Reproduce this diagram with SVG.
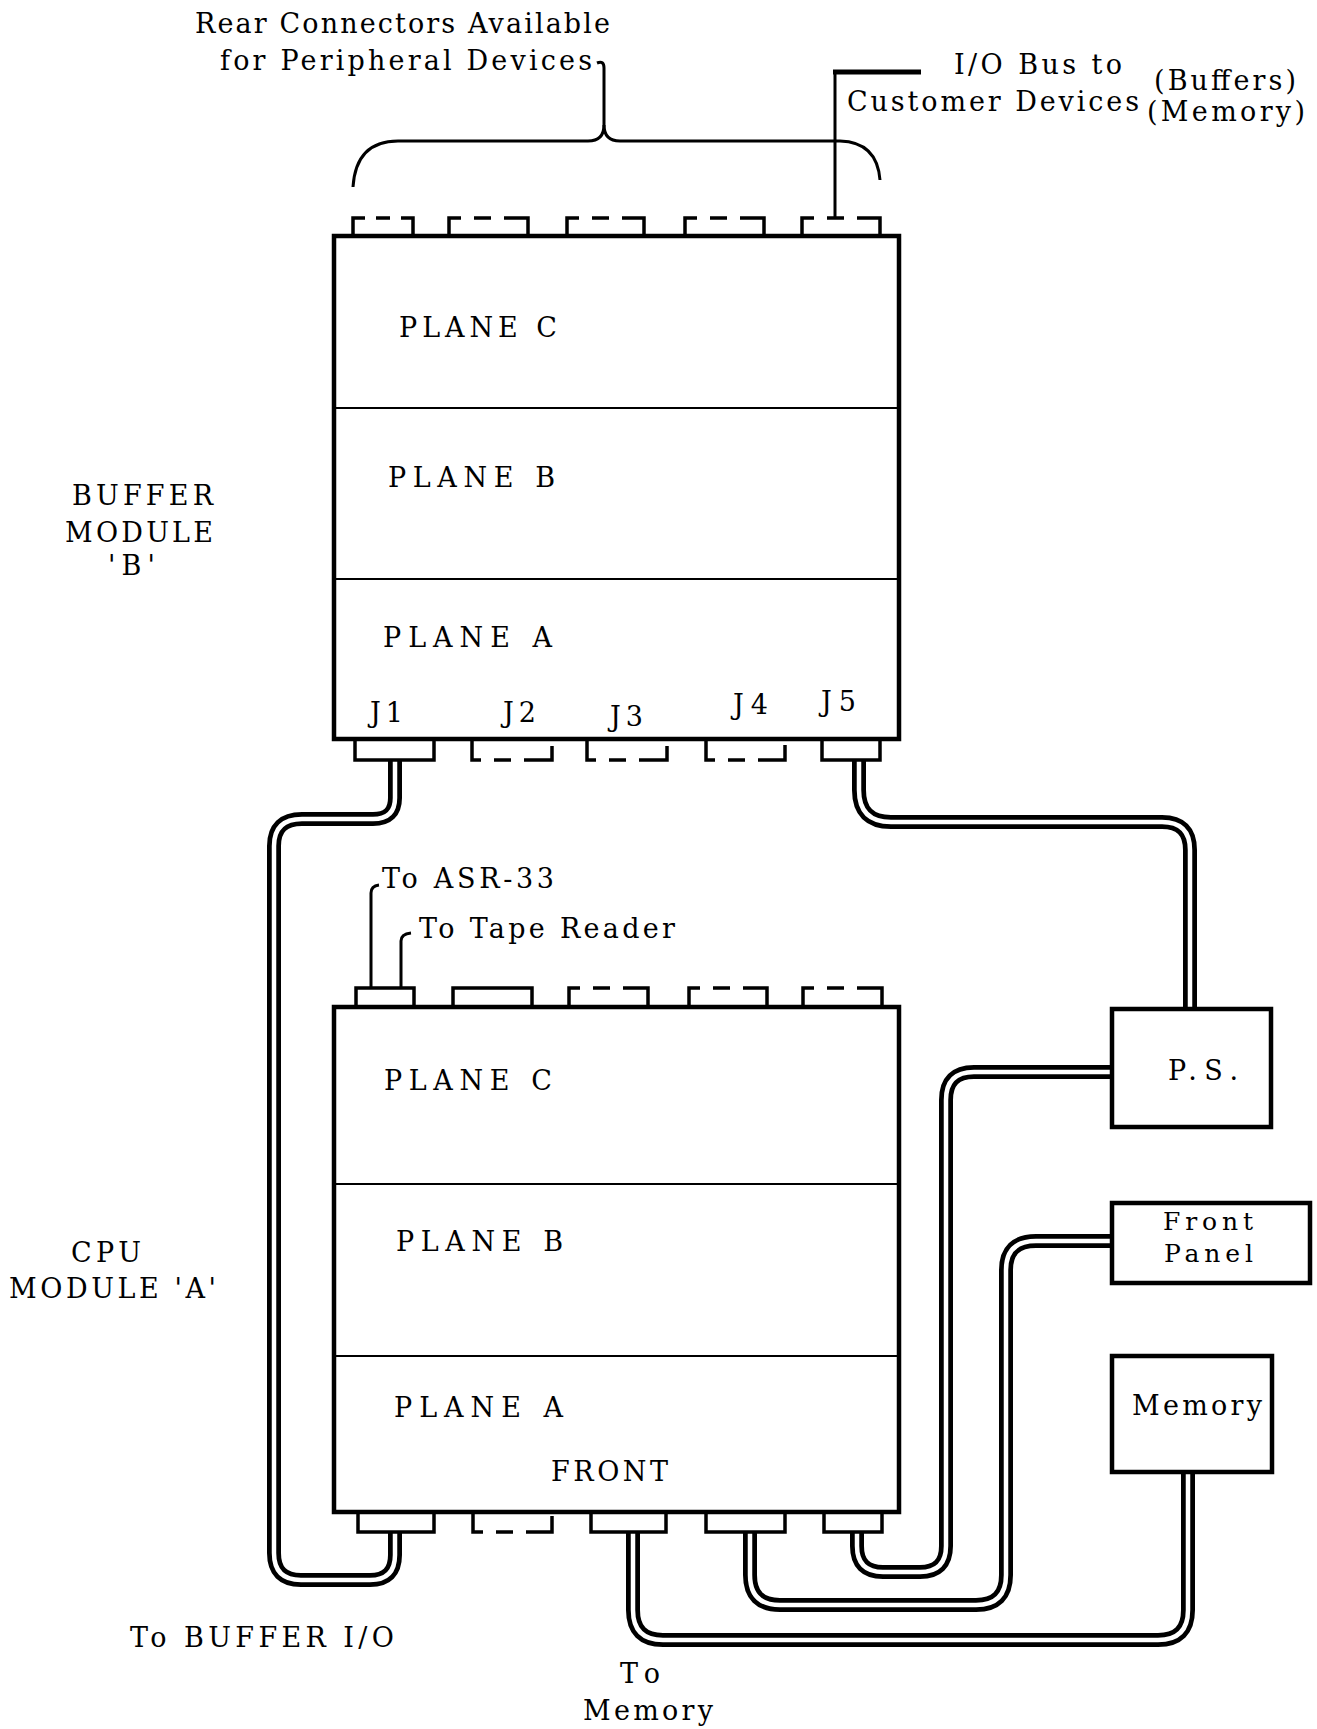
<svg xmlns="http://www.w3.org/2000/svg" xmlns:xlink="http://www.w3.org/1999/xlink" width="1317" height="1729" viewBox="0 0 1317 1729">
<style>
.box{fill:none;stroke:#000;stroke-width:4.5}
.div{fill:none;stroke:#000;stroke-width:2.2}
.conn{fill:#fff;stroke:#000;stroke-width:3.5}
.dash{fill:none;stroke:#000;stroke-width:3.5;stroke-dasharray:30 13 17 13 42}
.dash60{fill:none;stroke:#000;stroke-width:3.5;stroke-dasharray:30 11 14 11 32}
.cab-o{fill:none;stroke:#000;stroke-width:14}
.cab-i{fill:none;stroke:#fff;stroke-width:4.5}
.ln{fill:none;stroke:#000;stroke-width:3}
.thick{fill:none;stroke:#000;stroke-width:5}
text{font-family:"DejaVu Serif","Liberation Serif",serif;font-size:27px;fill:#000}
.sm{font-size:25px}
</style>
<defs>
<path id="cA" d="M395,760 V798 Q395,819 373,819 H302 Q274,819 274,846 V1553 Q274,1580 301,1580 H370 Q395,1580 395,1555 V1532"/>
<path id="cB" d="M859,760 V790 Q859,822 891,822 H1162 Q1190,822 1190,850 V1009"/>
<path id="cC" d="M857,1532 V1546 Q857,1572 883,1572 H920 Q946,1572 946,1546 V1100 Q946,1072 974,1072 H1112"/>
<path id="cD" d="M750,1532 V1575 Q750,1605 780,1605 H976 Q1006,1605 1006,1575 V1270 Q1006,1241 1036,1241 H1112"/>
<path id="cE" d="M633,1532 V1610 Q633,1640 663,1640 H1158 Q1188,1640 1188,1610 V1472"/>
</defs>
<rect width="1317" height="1729" fill="#fff"/>

<g id="connectors">
<use xlink:href="#cA" class="cab-o"/><use xlink:href="#cA" class="cab-i"/>
<use xlink:href="#cB" class="cab-o"/><use xlink:href="#cB" class="cab-i"/>
<use xlink:href="#cC" class="cab-o"/><use xlink:href="#cC" class="cab-i"/>
<use xlink:href="#cD" class="cab-o"/><use xlink:href="#cD" class="cab-i"/>
<use xlink:href="#cE" class="cab-o"/><use xlink:href="#cE" class="cab-i"/>
<path class="ln" d="M597,63 Q604,60 604,68 V125 Q604,141 588,141 H398 Q356,141 353,187"/>
<path class="ln" d="M604,125 Q604,141 620,141 H840 Q877,142 880,180"/>
<path class="ln" d="M835,217 V72"/>
<path class="thick" d="M833,72 H921"/>
<path class="ln" d="M371,987 V893 Q371,886 379,885"/>
<path class="ln" d="M401,987 V941 Q401,934 411,933"/>
</g>

<g id="labels">
<text x="195" y="33" textLength="415" lengthAdjust="spacing">Rear Connectors Available</text>
<text x="220" y="70" textLength="372" lengthAdjust="spacing">for Peripheral Devices</text>
<text x="954" y="74" textLength="168" lengthAdjust="spacing">I/O Bus to</text>
<text x="847" y="111" textLength="292" lengthAdjust="spacing">Customer Devices</text>
<text x="1154" y="90" textLength="142" lengthAdjust="spacing">(Buffers)</text>
<text x="1147" y="121" textLength="158" lengthAdjust="spacing">(Memory)</text>
<text x="72" y="505" textLength="141" lengthAdjust="spacing">BUFFER</text>
<text x="65" y="542" textLength="148" lengthAdjust="spacing">MODULE</text>
<text x="108" y="575" textLength="47" lengthAdjust="spacing">'B'</text>
<text x="382" y="888" textLength="172" lengthAdjust="spacing">To ASR-33</text>
<text x="419" y="938" textLength="256" lengthAdjust="spacing">To Tape Reader</text>
<text x="71" y="1262" textLength="70" lengthAdjust="spacing">CPU</text>
<text x="9" y="1298" textLength="207" lengthAdjust="spacing">MODULE 'A'</text>
<text x="130" y="1647" textLength="264" lengthAdjust="spacing">To BUFFER I/O</text>
<text x="620" y="1683" textLength="40" lengthAdjust="spacing">To</text>
<text x="583" y="1720" textLength="130" lengthAdjust="spacing">Memory</text>
</g>

<g id="node-buffer">
<path class="dash60" d="M353,236 V218 H413 V236"/>
<path class="dash" d="M449,236 V218 H528 V236"/>
<path class="dash" d="M567,236 V218 H644 V236"/>
<path class="dash" d="M685,236 V218 H764 V236"/>
<path class="dash" d="M802,236 V218 H880 V236"/>
<path class="conn" d="M355,739 V760 H434 V739"/>
<path class="dash" d="M472,739 V760 H552 V739"/>
<path class="dash" d="M587,739 V760 H667 V739"/>
<path class="dash" d="M706,739 V760 H785 V739"/>
<path class="conn" d="M822,739 V760 H880 V739"/>
<rect class="box" x="334" y="236" width="565" height="503"/>
<line class="div" x1="334" y1="408" x2="899" y2="408"/>
<line class="div" x1="334" y1="579" x2="899" y2="579"/>
<text x="399" y="337" textLength="158" lengthAdjust="spacing">PLANE C</text>
<text x="388" y="487" textLength="167" lengthAdjust="spacing">PLANE  B</text>
<text x="383" y="647" textLength="169" lengthAdjust="spacing">PLANE  A</text>
<text x="370" y="722" textLength="33" lengthAdjust="spacing">J1</text>
<text x="503" y="722" textLength="33" lengthAdjust="spacing">J2</text>
<text x="610" y="726" textLength="33" lengthAdjust="spacing">J3</text>
<text x="733" y="714" textLength="35" lengthAdjust="spacing">J4</text>
<text x="821" y="711" textLength="35" lengthAdjust="spacing">J5</text>
</g>

<g id="node-cpu">
<path class="conn" d="M356,1007 V988 H414 V1007"/>
<path class="conn" d="M453,1007 V988 H532 V1007"/>
<path class="dash" d="M569,1007 V988 H648 V1007"/>
<path class="dash" d="M689,1007 V988 H767 V1007"/>
<path class="dash" d="M803,1007 V988 H882 V1007"/>
<path class="conn" d="M358,1512 V1532 H434 V1512"/>
<path class="dash" d="M473,1512 V1532 H552 V1512"/>
<path class="conn" d="M591,1512 V1532 H666 V1512"/>
<path class="conn" d="M706,1512 V1532 H785 V1512"/>
<path class="conn" d="M824,1512 V1532 H882 V1512"/>
<rect class="box" x="334" y="1007" width="565" height="505"/>
<line class="div" x1="334" y1="1184" x2="899" y2="1184"/>
<line class="div" x1="334" y1="1356" x2="899" y2="1356"/>
<text x="384" y="1090" textLength="168" lengthAdjust="spacing">PLANE  C</text>
<text x="396" y="1251" textLength="167" lengthAdjust="spacing">PLANE  B</text>
<text x="394" y="1417" textLength="169" lengthAdjust="spacing">PLANE  A</text>
<text x="551" y="1481" textLength="117" lengthAdjust="spacing">FRONT</text>
</g>

<g id="node-ps">
<rect class="box" x="1112" y="1009" width="159" height="118" fill="#fff"/>
<text x="1168" y="1080" textLength="70" lengthAdjust="spacing">P.S.</text>
</g>

<g id="node-frontpanel">
<rect class="box" x="1112" y="1203" width="198" height="80"/>
<text class="sm" x="1163" y="1230" textLength="90" lengthAdjust="spacing">Front</text>
<text class="sm" x="1164" y="1262" textLength="89" lengthAdjust="spacing">Panel</text>
</g>

<g id="node-memory">
<rect class="box" x="1112" y="1356" width="160" height="116"/>
<text x="1132" y="1415" textLength="130" lengthAdjust="spacing">Memory</text>
</g>
</svg>
